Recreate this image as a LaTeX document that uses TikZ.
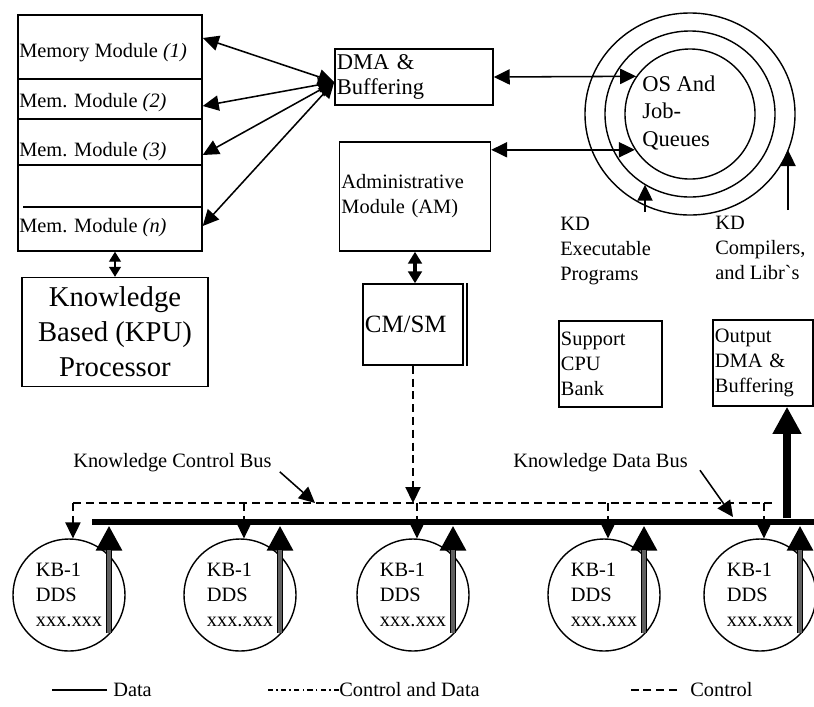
\documentclass[tikz,border=0pt]{standalone}
\usepackage{fontspec}
\setmainfont{Liberation Serif}
\usetikzlibrary{arrows.meta,shapes.geometric,calc}

\begin{document}
\begin{tikzpicture}[x=0.025cm, y=-0.025cm,
    >={Triangle[length=0.4cm,width=0.38cm]},
    txt/.style={font=\fontsize{14.5}{17.7}\selectfont, align=left, inner sep=0pt},
    box/.style={draw, line width=1pt, txt, inner xsep=0.05cm},
    conn/.style={line width=1.1pt, <->},
    ctrl/.style={line width=0.9pt, dash pattern=on 0.2cm off 0.12cm},
    kbnode/.style={circle, draw, line width=1pt, minimum size=2.8cm, txt},
    databar/.style={line width=4.2pt, draw=black, -{Triangle[length=0.62cm,width=0.62cm]},
        postaction={draw=gray!75!black, line width=2.2pt, -, shorten >=0.6cm}},
    bigarrow/.style={line width=5.5pt, -{Triangle[length=0.68cm,width=0.68cm]}}]

    \useasboundingbox (0,0) rectangle (814,706);

    % Stack of memory modules
    \node[draw, line width=1pt, minimum width=4.6cm, minimum height=5.9cm] (memstack) at (110,133) {};
    \draw[line width=1pt] (18,79) -- (202,79) (18,119) -- (202,119) (18,165) -- (202,165) (23,207) -- (202,207);
    \node[txt, anchor=west] (mem1) at (19,53) {Memory Module \textit{(1)}};
    \node[txt, anchor=west] (mem2) at (19,103) {Mem. Module \textit{(2)}};
    \node[txt, anchor=west] (mem3) at (19,152) {Mem. Module \textit{(3)}};
    \node[txt, anchor=west] (memn) at (19,228) {Mem. Module \textit{(n)}};

    % Box for the KPU
    \node[box, align=center, font=\fontsize{20.4}{24.8}\selectfont, minimum width=4.65cm, minimum height=2.725cm] (kpu) at (115,332) {Knowledge\\Based (KPU)\\Processor};
    \draw[ctrl, {Triangle[length=0.25cm,width=0.3cm]}-{Triangle[length=0.25cm,width=0.3cm]}] (kpu.north) -- (kpu.north |- memstack.south);

    % DMA, administrative module and CM/SM
    \node[box, font=\fontsize{16}{17.7}\selectfont, text width=3.85cm, minimum height=1.4cm] (dma) at (414,77) {DMA \&\\Buffering};
    \node[box, text width=3.675cm, minimum height=2.725cm] (am) at (415,196.5) {Administrative\\Module (AM)};
    \node[box, font=\fontsize{17.7}{20}\selectfont, text width=2.4cm, minimum height=2.025cm] (cmsm) at (413,324.5) {CM/SM};
    \draw[line width=1pt] ([xshift=0.08cm]cmsm.north east) -- ([xshift=0.08cm]cmsm.south east);
    \draw[line width=2.2pt, {Triangle[length=0.3cm,width=0.34cm]}-{Triangle[length=0.3cm,width=0.34cm]}] (am.south) -- (am.south |- cmsm.north);

    % Arrows to the memory modules
    \foreach \m/\dy in {mem1/-15, mem2/3, mem3/3, memn/-2}
        \draw[conn] ($(dma.west)+(0,5)$) -- ($(memstack.east |- \m)+(0,\dy)$);

    % Rings for OS and job queues
    \node[draw, ellipse, line width=1pt, minimum width=5.25cm, minimum height=5.05cm, inner sep=0pt] (osout) at (690,114) {};
    \node[draw, ellipse, line width=1pt, minimum width=4.25cm, minimum height=4.15cm, inner sep=0pt] (osmid) at (690,114) {};
    \node[draw, circle, line width=1pt, minimum size=3.25cm, inner sep=0pt] (osin) at (690,114) {};
    \node[txt, font=\fontsize{16}{19.8}\selectfont, anchor=west] (ostext) at (642,113) {OS And\\Job-\\Queues};
    \draw[conn] (dma.east) -- (osin.145);
    \draw[conn] (am.east |- osin.213) -- (osin.213);

    % KD inputs
    \node[txt, anchor=west] (kdexe) at (560,251) {KD\\Executable\\Programs};
    \node[txt, anchor=west] (kdcomp) at (715,248) {KD\\Compilers,\\and Libr\textasciigrave s};
    \coordinate (exebase) at (645,212);
    \coordinate (compbase) at (788,210);
    \draw[->, line width=1.1pt] (exebase) -- (exebase |- osmid.237);
    \draw[->, line width=1.1pt] (compbase) -- (compbase |- osout.340);

    % Support CPUs and output
    \node[box, text width=2.475cm, minimum height=2.15cm] (cpu) at (610.5,364) {Support\\CPU\\Bank};
    \node[box, text width=2.4cm, minimum height=2.15cm] (outbox) at (763,363) {Output\\DMA \&\\Buffering};

    % Buses
    \node[fill=black, inner sep=0pt, minimum width=18.05cm, minimum height=0.17cm] (kbus) at (453,522) {};
    \coordinate (cbe) at (772,503);
    \draw[bigarrow] ([xshift=0.6cm]outbox.south |- kbus.north) -- ([xshift=0.6cm]outbox.south);

    % Knowledge bases
    \foreach \n/\cx in {1/69,2/240,3/413,4/604,5/760}{
        \node[kbnode] (kb\n) at (\cx,595) {KB-1\\DDS\\xxx.xxx};
        \coordinate (dat\n) at ([shift={(1cm,-0.95cm)}]kb\n.center);
        \draw[databar] (dat\n) -- (dat\n |- kbus.south);
        \draw[ctrl, ->] (kb\n.86 |- cbe) -- (kb\n.86);
    }
    \draw[ctrl] (kb1.86 |- cbe) -- (cbe);
    \draw[ctrl, ->] (cmsm.south) -- (cmsm.south |- cbe);

    % Bus labels
    \node[txt, anchor=west] (cblabel) at (73,463) {Knowledge Control Bus};
    \coordinate (cbhit) at (315,503);
    \draw[->, line width=1.1pt] ([shift={(0.2cm,-0.22cm)}]cblabel.east) -- (cbhit);
    \node[txt, anchor=west] (dblabel) at (513,463) {Knowledge Data Bus};
    \coordinate (dbhit) at (733,517);
    \draw[->, line width=1.1pt] ([shift={(0.3cm,-0.18cm)}]dblabel.east) -- (dbhit);

    % Legend
    \node[txt, anchor=west] (legdata) at (113,690) {Data};
    \draw[line width=1.1pt] (legdata.west) ++(-6,0) -- ++(-55,0);
    \node[txt, anchor=west] (legboth) at (339,690) {Control and Data};
    \draw[line width=1pt, dash pattern=on 0.13cm off 0.08cm on 0.04cm off 0.08cm] (legboth.west) -- ++(-73,0);
    \node[txt, anchor=west] (legctrl) at (690,690) {Control};
    \draw[ctrl] (legctrl.west) ++(-13,0) -- ++(-47,0);
\end{tikzpicture}
\end{document}
